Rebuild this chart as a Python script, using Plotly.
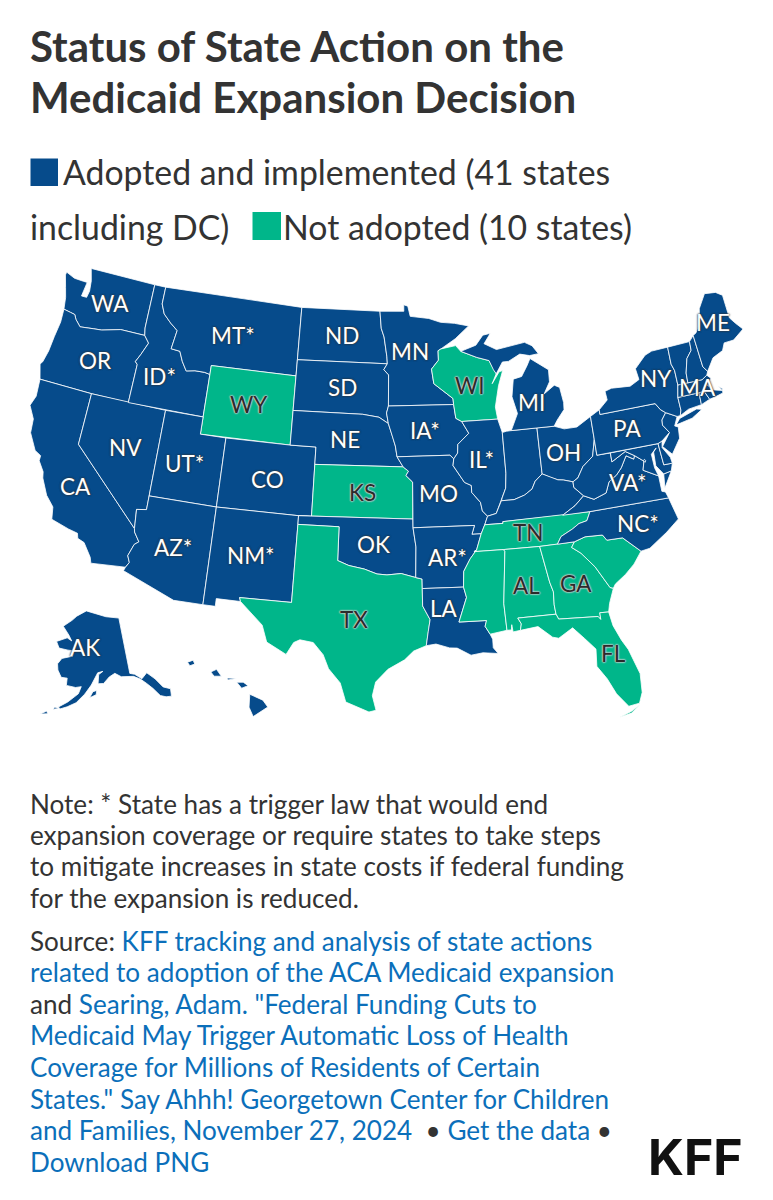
import math
import plotly.graph_objects as go

BLUE = "#064b8b"
GREEN = "#00b68a"
TEXT = "#333333"
LINK = "#0b6fba"
FONT = "Lato"

TITLE = ["<b>Status of State Action on the</b>", "<b>Medicaid Expansion Decision</b>"]
NOTE = ["Note: * State has a trigger law that would end",
        "expansion coverage or require states to take steps",
        "to mitigate increases in state costs if federal funding",
        "for the expansion is reduced."]
def a(s):
    return f'<span style="color:{LINK}">{s}</span>'
SOURCE = ["Source: " + a("KFF tracking and analysis of state actions"),
          a("related to adoption of the ACA Medicaid expansion"),
          "and " + a('Searing, Adam. "Federal Funding Cuts to'),
          a("Medicaid May Trigger Automatic Loss of Health"),
          a("Coverage for Millions of Residents of Certain"),
          a('States." Say Ahhh! Georgetown Center for Children'),
          a("and Families, November 27, 2024") + "  • " + a("Get the data") + " •",
          a("Download PNG")]

ADOPTED = ["WA","OR","CA","NV","ID","MT","ND","SD","NE","MN","IA","MO","AR","LA","OK","NM","AZ","UT","CO","IL",
           "MI","IN","OH","KY","PA","NY","VT","NH","ME","MA","RI","CT","NJ","DE","MD","DC","VA","WV","NC","AK","HI"]
NOT_ADOPTED = ["WY","KS","TX","WI","TN","MS","AL","GA","SC","FL"]

# state outlines, lon/lat; a state may have several parts
STATES = {
"WA": [[(-124.0,46.27),(-124.08,46.7),(-124.15,46.95),(-124.4,47.5),(-124.73,48.2),(-124.7,48.38),(-123.9,48.17),(-123.1,48.15),(-122.75,48.15),(-122.9,47.3),(-122.45,47.3),(-122.35,47.7),(-122.45,48.3),(-122.75,49.0),(-117.03,49.0),(-117.03,46.42),(-116.92,45.99),(-118.98,46.0),(-119.3,45.93),(-120.5,45.7),(-121.2,45.65),(-122.3,45.55),(-122.8,45.9),(-123.0,46.15),(-123.4,46.2)]],
"OR": [[(-124.0,46.27),(-123.95,45.5),(-124.1,44.6),(-124.2,43.7),(-124.4,43.0),(-124.55,42.84),(-124.2,42.0),(-120,42),(-117.03,42),(-117.03,43.8),(-117.0,44.25),(-117.2,44.4),(-116.9,44.85),(-116.47,45.6),(-116.92,45.99),(-118.98,46.0),(-119.3,45.93),(-120.5,45.7),(-121.2,45.65),(-122.3,45.55),(-122.8,45.9),(-123.0,46.15),(-123.4,46.2)]],
"CA": [[(-124.2,42),(-120,42),(-120,39),(-114.63,35.0),(-114.57,34.8),(-114.14,34.3),(-114.43,34.1),(-114.72,33.4),(-114.52,33.03),(-114.72,32.72),(-117.12,32.53),(-117.25,32.85),(-117.9,33.6),(-118.4,33.75),(-118.5,34.03),(-119.2,34.15),(-120.5,34.45),(-120.65,35.15),(-121.3,35.7),(-121.9,36.6),(-122.0,36.95),(-122.5,37.5),(-122.5,37.8),(-123.0,38.0),(-123.7,38.9),(-123.8,39.7),(-124.35,40.4),(-124.1,41.0)]],
"NV": [[(-120,42),(-114.04,42),(-114.04,37),(-114.04,36.2),(-114.75,36.1),(-114.63,35.0),(-120,39)]],
"ID": [[(-117.03,49),(-116.05,49),(-116.05,48),(-115.7,47.45),(-115.0,47.0),(-114.35,46.65),(-114.55,45.55),(-113.8,45.5),(-113.45,44.95),(-113.0,44.45),(-112.3,44.55),(-111.5,44.55),(-111.05,44.48),(-111.05,42),(-117.03,42),(-117.03,43.8),(-117.0,44.25),(-117.2,44.4),(-116.9,44.85),(-116.47,45.6),(-116.92,45.99),(-117.03,46.42)]],
"MT": [[(-116.05,49),(-104.05,49),(-104.05,45.94),(-104.05,45),(-111.05,45),(-111.05,44.48),(-111.5,44.55),(-112.3,44.55),(-113.0,44.45),(-113.45,44.95),(-113.8,45.5),(-114.55,45.55),(-114.35,46.65),(-115.0,47.0),(-115.7,47.45),(-116.05,48)]],
"WY": [[(-111.05,45),(-104.05,45),(-104.05,43),(-104.05,41),(-111.05,41),(-111.05,42)]],
"UT": [[(-114.04,42),(-111.05,42),(-111.05,41),(-109.05,41),(-109.05,37),(-114.04,37)]],
"CO": [[(-109.05,41),(-104.05,41),(-102.05,41),(-102.05,40),(-102.05,37),(-103,37),(-109.05,37)]],
"AZ": [[(-114.04,37),(-109.05,37),(-109.05,31.33),(-111.07,31.33),(-114.81,32.5),(-114.72,32.72),(-114.52,33.03),(-114.72,33.4),(-114.43,34.1),(-114.14,34.3),(-114.57,34.8),(-114.63,35.0),(-114.75,36.1),(-114.04,36.2)]],
"NM": [[(-109.05,37),(-103.0,37),(-103.0,36.5),(-103.04,32),(-106.62,32),(-106.53,31.78),(-108.2,31.78),(-108.2,31.33),(-109.05,31.33)]],
"ND": [[(-104.05,49),(-97.23,49),(-97.1,48),(-96.85,47.5),(-96.6,46.35),(-96.56,45.94),(-104.05,45.94)]],
"SD": [[(-104.05,45.94),(-96.56,45.94),(-96.85,45.6),(-96.45,45.3),(-96.45,43.5),(-96.6,43.1),(-96.45,42.49),(-97.2,42.85),(-98.5,43.0),(-104.05,43)]],
"NE": [[(-104.05,43),(-98.5,43),(-97.2,42.85),(-96.45,42.49),(-96.1,41.7),(-95.9,41.2),(-95.77,40.58),(-95.31,40.0),(-102.05,40),(-102.05,41),(-104.05,41)]],
"KS": [[(-102.05,40),(-95.31,40),(-94.9,39.75),(-95.1,39.5),(-94.6,39.12),(-94.62,37),(-103,37),(-102.05,37)]],
"OK": [[(-103,37),(-94.62,37),(-94.62,36.5),(-94.43,35.4),(-94.48,33.64),(-95.5,33.88),(-96.5,33.8),(-97.2,33.85),(-98.1,34.12),(-99.2,34.3),(-100,34.56),(-100,36.5),(-103,36.5)]],
"TX": [[(-103.0,36.5),(-100,36.5),(-100,34.56),(-99.2,34.3),(-98.1,34.12),(-97.2,33.85),(-96.5,33.8),(-95.5,33.88),(-94.48,33.64),(-94.04,33.55),(-94.04,33.0),(-94.04,32.0),(-93.55,31.2),(-93.7,30.5),(-93.85,29.7),(-94.7,29.4),(-95.3,28.9),(-96.4,28.35),(-97.2,27.6),(-97.4,26.8),(-97.15,25.96),(-97.6,25.85),(-98.3,26.1),(-99.1,26.4),(-99.5,27.5),(-100.3,28.3),(-100.7,29.1),(-101.4,29.77),(-102.3,29.88),(-102.7,29.7),(-103.15,28.98),(-104.5,29.6),(-104.9,30.55),(-106.0,31.4),(-106.53,31.78),(-106.62,32),(-103.04,32)]],
"MN": [[(-97.23,49),(-95.15,49),(-95.15,49.38),(-94.8,49.3),(-94.6,48.7),(-93.0,48.55),(-92.0,48.3),(-90.8,48.2),(-89.6,48.0),(-90.8,47.3),(-92.05,46.75),(-92.3,46.65),(-92.3,46.1),(-92.9,45.6),(-92.75,44.75),(-91.25,43.85),(-91.22,43.5),(-96.45,43.5),(-96.45,45.3),(-96.85,45.6),(-96.56,45.94),(-96.6,46.35),(-96.85,47.5),(-97.1,48)]],
"IA": [[(-96.45,43.5),(-91.22,43.5),(-91.1,42.7),(-90.65,42.5),(-90.15,41.8),(-91.05,41.2),(-91.1,40.7),(-91.42,40.38),(-91.7,40.6),(-95.77,40.58),(-95.9,41.2),(-96.1,41.7),(-96.45,42.49),(-96.6,43.1)]],
"MO": [[(-95.77,40.58),(-91.7,40.6),(-91.42,40.38),(-91.5,40.0),(-90.7,39.0),(-90.2,38.8),(-90.2,38.4),(-89.6,37.8),(-89.5,37.3),(-89.15,36.98),(-89.4,36.5),(-89.7,36.0),(-90.37,36.0),(-90.15,36.5),(-94.62,36.5),(-94.62,37),(-94.6,39.12),(-95.1,39.5),(-94.9,39.75),(-95.31,40)]],
"AR": [[(-94.62,36.5),(-90.15,36.5),(-90.37,36.0),(-89.7,36.0),(-90.1,35.1),(-90.6,34.6),(-91.1,33.9),(-91.17,33.0),(-94.04,33.0),(-94.04,33.55),(-94.48,33.64),(-94.43,35.4)]],
"LA": [[(-94.04,33),(-91.17,33),(-91.0,32.4),(-91.6,31.0),(-89.73,31.0),(-89.85,30.67),(-89.55,30.2),(-89.4,29.9),(-89.4,29.4),(-89.1,29.05),(-90.1,29.15),(-90.9,29.05),(-91.8,29.5),(-92.3,29.53),(-93.2,29.78),(-93.85,29.7),(-93.7,30.5),(-93.55,31.2),(-94.04,32)]],
"WI": [[(-92.05,46.75),(-90.8,46.9),(-90.4,46.55),(-89.1,46.14),(-88.1,45.9),(-87.8,45.35),(-87.6,45.1),(-88.0,44.55),(-87.35,45.2),(-87.05,45.25),(-87.5,44.4),(-87.9,43.2),(-87.8,42.49),(-90.65,42.5),(-91.1,42.7),(-91.22,43.5),(-91.25,43.85),(-92.75,44.75),(-92.9,45.6),(-92.3,46.1),(-92.3,46.65)]],
"IL": [[(-90.65,42.5),(-87.8,42.49),(-87.53,41.7),(-87.53,39.35),(-87.65,38.5),(-87.95,38.0),(-88.05,37.8),(-88.5,37.1),(-89.15,36.98),(-89.5,37.3),(-89.6,37.8),(-90.2,38.4),(-90.2,38.8),(-90.7,39.0),(-91.5,40.0),(-91.42,40.38),(-91.1,40.7),(-91.05,41.2),(-90.15,41.8)]],
"IN": [[(-87.53,41.7),(-87.2,41.75),(-86.82,41.76),(-84.8,41.76),(-84.82,39.1),(-85.4,38.73),(-85.7,38.3),(-86.3,38.0),(-87.1,37.8),(-88.05,37.8),(-87.95,38.0),(-87.65,38.5),(-87.53,39.35)]],
"OH": [[(-84.8,41.76),(-83.45,41.73),(-82.7,41.5),(-81.7,41.5),(-80.52,41.98),(-80.52,40.64),(-80.85,39.7),(-81.7,39.2),(-82.2,38.6),(-82.6,38.42),(-83.3,38.6),(-83.7,38.65),(-84.25,38.85),(-84.82,39.1)]],
"KY": [[(-84.82,39.1),(-84.25,38.85),(-83.7,38.65),(-83.3,38.6),(-82.6,38.42),(-82.6,38.1),(-81.97,37.54),(-82.7,37.05),(-83.68,36.6),(-88.07,36.6),(-88.07,36.5),(-89.4,36.5),(-89.15,36.98),(-88.5,37.1),(-88.05,37.8),(-87.1,37.8),(-86.3,38.0),(-85.7,38.3),(-85.4,38.73)]],
"TN": [[(-89.4,36.5),(-88.07,36.5),(-88.07,36.6),(-83.68,36.6),(-81.68,36.59),(-82.0,36.1),(-82.6,36.0),(-83.1,35.75),(-84.0,35.4),(-84.32,34.99),(-85.6,34.98),(-88.2,35.0),(-90.3,35.0),(-90.1,35.1),(-89.7,36.0)]],
"MS": [[(-90.3,35),(-88.2,35),(-88.1,34.9),(-88.47,31.9),(-88.4,30.35),(-89.55,30.2),(-89.85,30.67),(-89.73,31),(-91.6,31),(-91,32.4),(-91.17,33),(-91.1,33.9),(-90.6,34.6),(-90.1,35.1)]],
"AL": [[(-88.2,35),(-85.6,34.98),(-85.18,32.87),(-85,32.3),(-85.05,31.55),(-85.0,31.0),(-87.6,31.0),(-87.4,30.65),(-87.5,30.28),(-88.0,30.23),(-88.05,30.65),(-88.1,30.35),(-88.4,30.35),(-88.47,31.9),(-88.1,34.9)]],
"GA": [[(-85.6,34.98),(-84.32,34.99),(-83.1,35),(-83.35,34.7),(-82.75,34.3),(-81.9,33.4),(-81.4,32.6),(-81.1,32.1),(-80.88,32.03),(-81.3,31.2),(-81.45,30.72),(-82.05,30.75),(-82.05,30.36),(-82.2,30.55),(-84.86,30.7),(-85.0,31.0),(-85.05,31.55),(-85,32.3),(-85.18,32.87)]],
"FL": [[(-87.6,31),(-85,31),(-84.86,30.7),(-82.2,30.55),(-82.05,30.36),(-82.05,30.75),(-81.45,30.72),(-81.3,29.9),(-80.9,29.0),(-80.55,28.4),(-80.05,26.9),(-80.12,25.8),(-80.4,25.2),(-81.1,25.12),(-81.75,25.95),(-82.2,26.9),(-82.75,27.7),(-82.65,28.7),(-83.3,29.4),(-84.0,30.1),(-85.0,29.6),(-85.4,29.7),(-86.3,30.4),(-87.5,30.28),(-87.4,30.65)],
       [(-81.8,24.55),(-81.0,24.7),(-80.4,25.1),(-81.0,24.8)]],
"SC": [[(-83.1,35),(-82.3,35.2),(-81.05,35.15),(-80.8,34.82),(-79.67,34.8),(-78.55,33.86),(-79.2,33.2),(-79.9,32.7),(-80.7,32.25),(-80.88,32.03),(-81.1,32.1),(-81.4,32.6),(-81.9,33.4),(-82.75,34.3),(-83.35,34.7)]],
"NC": [[(-84.32,34.99),(-84,35.4),(-83.1,35.75),(-82.6,36.0),(-82,36.1),(-81.68,36.59),(-75.87,36.55),(-75.5,35.25),(-76.5,34.65),(-77.9,33.93),(-78.55,33.86),(-79.67,34.8),(-80.8,34.82),(-81.05,35.15),(-82.3,35.2),(-83.1,35)]],
"VA": [[(-83.68,36.6),(-82.7,37.05),(-81.97,37.54),(-81.25,37.25),(-80.3,37.5),(-79.95,38.1),(-79.3,38.42),(-78.87,38.77),(-78.35,39.4),(-77.83,39.13),(-77.72,39.32),(-77.1,38.9),(-77.3,38.4),(-76.25,37.9),(-76.25,37.0),(-76.0,36.92),(-75.87,36.55),(-81.68,36.59)],
       [(-75.98,37.15),(-75.6,37.6),(-75.25,38.03),(-75.85,37.95)]],
"WV": [[(-82.6,38.42),(-82.2,38.6),(-81.7,39.2),(-80.85,39.7),(-80.52,40.64),(-80.52,39.72),(-79.48,39.72),(-79.48,39.2),(-78.35,39.65),(-77.72,39.32),(-77.83,39.13),(-78.35,39.4),(-78.87,38.77),(-79.3,38.42),(-79.95,38.1),(-80.3,37.5),(-81.25,37.25),(-81.97,37.54),(-82.6,38.1)]],
"MD": [[(-79.48,39.72),(-75.79,39.72),(-75.7,38.46),(-75.05,38.45),(-75.25,38.03),(-75.85,37.95),(-76.3,38.5),(-76.25,39.3),(-76.0,39.5),(-76.45,39.2),(-76.42,38.4),(-76.25,37.9),(-77.3,38.4),(-77.1,38.9),(-77.72,39.32),(-78.35,39.65),(-79.48,39.2)]],
"DC": [[(-77.12,38.93),(-77.04,39.0),(-76.95,38.9),(-77.04,38.82)]],
"DE": [[(-75.79,39.72),(-75.45,39.82),(-75.55,39.45),(-75.1,38.8),(-75.05,38.45),(-75.7,38.46)]],
"PA": [[(-80.52,41.98),(-79.76,42.27),(-79.76,42),(-75.35,42),(-75.05,41.6),(-74.7,41.36),(-75.1,41.0),(-75.15,40.7),(-74.75,40.2),(-75.45,39.82),(-75.79,39.72),(-80.52,39.72),(-80.52,40.64)]],
"NJ": [[(-74.7,41.36),(-73.9,41.0),(-74.25,40.5),(-74.0,40.4),(-74.1,39.75),(-74.9,38.95),(-75.5,39.5),(-74.75,40.2),(-75.15,40.7),(-75.1,41.0)]],
"NY": [[(-79.76,42),(-75.35,42),(-75.05,41.6),(-74.7,41.36),(-73.9,41.0),(-73.65,41.0),(-73.5,41.3),(-73.5,42.05),(-73.27,42.75),(-73.25,43.6),(-73.4,44),(-73.35,45.01),(-74.7,45.0),(-75.3,44.85),(-76.3,44.2),(-76.2,43.55),(-77.0,43.28),(-78.5,43.37),(-79.05,43.26),(-79.0,42.75),(-79.76,42.27)],
       [(-74.05,40.6),(-73.75,40.85),(-72.3,41.15),(-71.9,41.05),(-72.8,40.7),(-74.0,40.55)]],
"CT": [[(-73.65,41.0),(-73.5,41.3),(-73.5,42.05),(-71.8,42.02),(-71.85,41.32),(-72.9,41.25)]],
"RI": [[(-71.8,42.02),(-71.38,42.02),(-71.12,41.5),(-71.85,41.32)]],
"MA": [[(-73.5,42.05),(-73.27,42.75),(-72.46,42.73),(-71.3,42.7),(-70.85,42.88),(-70.6,42.65),(-71.0,42.3),(-70.6,41.95),(-70.0,41.8),(-70.2,42.07),(-69.95,41.9),(-70.0,41.65),(-70.65,41.55),(-71.12,41.5),(-71.38,42.02),(-71.8,42.02)]],
"VT": [[(-73.35,45.01),(-71.5,45.01),(-71.55,44.5),(-72.05,44.1),(-72.4,43.3),(-72.46,42.73),(-73.27,42.75),(-73.25,43.6),(-73.4,44)]],
"NH": [[(-71.5,45.01),(-71.08,45.3),(-70.98,43.4),(-70.7,43.08),(-70.85,42.88),(-71.3,42.7),(-72.46,42.73),(-72.4,43.3),(-72.05,44.1),(-71.55,44.5)]],
"ME": [[(-71.08,45.3),(-70.8,45.4),(-70.3,45.9),(-70.0,46.7),(-69.23,47.46),(-68.3,47.35),(-67.8,47.07),(-67.8,45.7),(-67.45,45.3),(-67.0,44.85),(-68.0,44.4),(-68.8,44.4),(-69.1,44.0),(-70.0,43.75),(-70.7,43.08),(-70.98,43.4)]],
"MI": [[(-86.82,41.76),(-84.8,41.76),(-83.45,41.73),(-83.15,42.05),(-82.5,42.6),(-82.45,43.0),(-82.6,43.9),(-83.0,44.07),(-83.9,43.65),(-83.35,44.3),(-83.3,45.0),(-84.7,45.78),(-85.0,45.4),(-85.55,44.8),(-86.25,44.7),(-86.5,43.7),(-86.2,42.7)],
       [(-90.4,46.55),(-89.1,46.85),(-88.45,47.4),(-87.8,47.47),(-88.4,46.9),(-87.4,46.5),(-85.0,46.75),(-84.4,46.5),(-83.95,46.0),(-84.7,45.95),(-85.5,46.1),(-86.5,45.75),(-87.0,45.75),(-87.6,45.1),(-87.8,45.35),(-88.1,45.9),(-89.1,46.14)]],
"AK": [[(-141,69.65),(-141,60.3),(-139.5,60),(-137.5,59),(-135.5,59.75),(-133.5,58.4),(-131.9,56.7),(-130,56),(-130.5,54.8),(-132,55),(-133.5,55.5),(-135,57),(-136.5,58.1),(-138,59),(-140,59.7),(-144,60),(-146,60.7),(-148,60.2),(-150,59.2),(-151.8,59.2),(-151.5,60.7),(-150,61.2),(-151.8,61),(-153.5,59.5),(-154,59),(-156,57.5),(-158.5,56),(-161,55.2),(-163,54.7),(-163.5,55),(-161,56),(-158,57.5),(-157.2,58.7),(-159,58.5),(-162,58.7),(-162,59.9),(-164,59.9),(-165.5,61),(-166,62),(-164.8,63),(-161,63.6),(-161,64.5),(-163,64.5),(-166.5,64.6),(-168,65.6),(-164,66.5),(-162,66.1),(-163.5,67),(-166.5,68.3),(-163,69.5),(-161,70.3),(-156.5,71.3),(-152,70.8),(-147,70.2)],
       [(-154.5,56.9),(-152.5,57.4),(-152.3,58.1),(-153.5,57.9)],
       [(-164.9,54.5),(-163.3,54.75),(-164.6,54.9)],
       [(-168.2,53.3),(-166.2,53.6),(-166.6,54.0)]],
"HI": [[(-155.9,20.25),(-155.1,19.9),(-154.8,19.5),(-155.7,18.95),(-155.95,19.5)],
       [(-156.7,20.95),(-156.3,20.95),(-156,20.75),(-156.4,20.6)],
       [(-158.3,21.55),(-157.95,21.7),(-157.65,21.3),(-158.1,21.3)],
       [(-159.75,22.1),(-159.4,22.23),(-159.3,22),(-159.6,21.9)],
       [(-157.3,21.2),(-156.7,21.17),(-157.25,21.08)]],
}

LABELS = [("WA",110,303),("OR",95,360),("CA",75,486),("NV",125,447),("ID*",159,376),("MT*",233,335),("WY",249,404),
          ("UT*",184,463),("AZ*",173,547),("CO",267,479),("NM*",251,555),("ND",342,335),("SD",342,387),("NE",345,439),
          ("KS",362,492),("OK",373,544),("TX",354,619),("MN",410,351),("IA*",425,430),("MO",438,493),("AR*",447,557),
          ("LA",444,608),("WI",470,385),("IL*",481,459),("MI",531,402),("OH",563,452),("PA",627,428),("NY",656,378),
          ("ME",713,322),("MA",697,387),("VA*",628,482),("NC*",638,523),("TN",528,532),("AL",526,585),("GA",576,583),
          ("FL",613,653),("AK",85,647)]

def conic(lon, lat, p1, p2, lon0):
    s1 = math.sin(math.radians(p1))
    n = (s1 + math.sin(math.radians(p2))) / 2
    c = math.cos(math.radians(p1)) ** 2 + 2 * n * s1
    rho = lambda la: math.sqrt(c - 2 * n * math.sin(math.radians(la))) / n
    th = n * math.radians(lon - lon0)
    return rho(lat) * math.sin(th), -rho(lat) * math.cos(th)

# lower-48 scale and offset from two reference points on the picture
mx0, my0 = conic(-124.35, 40.4, 29.5, 45.5, -96)
mx1, my1 = conic(-67.0, 44.85, 29.5, 45.5, -96)
K = (743 - 30) / (mx1 - mx0)
TX = 743 - K * mx1
TY = 329 + K * my1  # y down on screen
AK_X, AK_Y = 85, 688
HI_X, HI_Y = 183, 700

def project(state, lon, lat):
    if state == "AK":
        x, y = conic(lon, lat, 55, 65, -154)
        cx, cy = conic(-156, 58.5, 55, 65, -154)
        return 0.35 * K * (x - cx) + AK_X, -0.35 * K * (y - cy) + AK_Y
    if state == "HI":
        x, y = conic(lon, lat, 8, 18, -157)
        cx, cy = conic(-160, 19.9, 8, 18, -157)
        return K * (x - cx) + HI_X, -K * (y - cy) + HI_Y
    x, y = conic(lon, lat, 29.5, 45.5, -96)
    return K * x + TX, -K * y + TY

fig = go.Figure()
for st, parts in STATES.items():
    xs, ys = [], []
    for part in parts:
        for lon, lat in part + part[:1]:
            x, y = project(st, lon, lat)
            xs.append(x); ys.append(y)
        xs.append(None); ys.append(None)
    fig.add_trace(go.Scatter(x=xs, y=ys, mode="lines", fill="toself", name=st,
                             fillcolor=BLUE if st in ADOPTED else GREEN,
                             line=dict(color="white", width=0.8), hoverinfo="skip", showlegend=False))

def text(x, y, s, size, color=TEXT, anchor="left", **kw):
    fig.add_annotation(x=x, y=y, xref="x", yref="y", text=s, showarrow=False, xanchor=anchor, yanchor="middle",
                       font=dict(family=kw.pop("family", FONT), size=size, color=color, **kw))

for s, y in zip(TITLE, [46, 97]):
    text(28, y, s, 42)
text(61, 172, "Adopted and implemented (41 states", 33.8)
text(28, 227, "including DC)", 33.8)
text(281, 227, "Not adopted (10 states)", 33.8)
for s, y in zip(NOTE, [804, 835, 866, 898]):
    text(28, y, s, 26.1)
for s, y in zip(SOURCE, [941, 972, 1004, 1035, 1067, 1099, 1130, 1162]):
    text(28, y, s, 26.1)
text(745, 1157, "<b>KFF</b>", 50, "#111111", anchor="right", family="Inter")

GREEN_LABELS = {"WY","KS","TX","WI","TN","AL","GA","FL"}
for lab, x, y in LABELS:
    if lab in GREEN_LABELS:
        text(x, y, lab, 22.5, "#2b2b2b", anchor="center",
             shadow="0 0 1.5px #d0d0d0, 0 0 1.5px #d0d0d0, 0 0 2px #d0d0d0, 0 0 2px #d0d0d0")
    else:
        text(x, y, lab, 22.5, "#ffffff", anchor="center", shadow="0 0 2px #333, 0 0 2px #333")

fig.add_shape(type="rect", x0=30.5, x1=58, y0=158.5, y1=186, fillcolor=BLUE, line_width=0, xref="x", yref="y")
fig.add_shape(type="rect", x0=252.5, x1=281, y0=212, y1=240, fillcolor=GREEN, line_width=0, xref="x", yref="y")

fig.update_xaxes(range=[0, 773], visible=False, fixedrange=True)
fig.update_yaxes(range=[1200, 0], visible=False, fixedrange=True)
fig.update_layout(width=773, height=1200, margin=dict(l=0, r=0, t=0, b=0), plot_bgcolor="white", paper_bgcolor="white",
                  showlegend=False)
fig.write_html("out.html", config={"displayModeBar": False},
               post_script="document.body.style.margin='0';document.documentElement.style.overflow='hidden';")
